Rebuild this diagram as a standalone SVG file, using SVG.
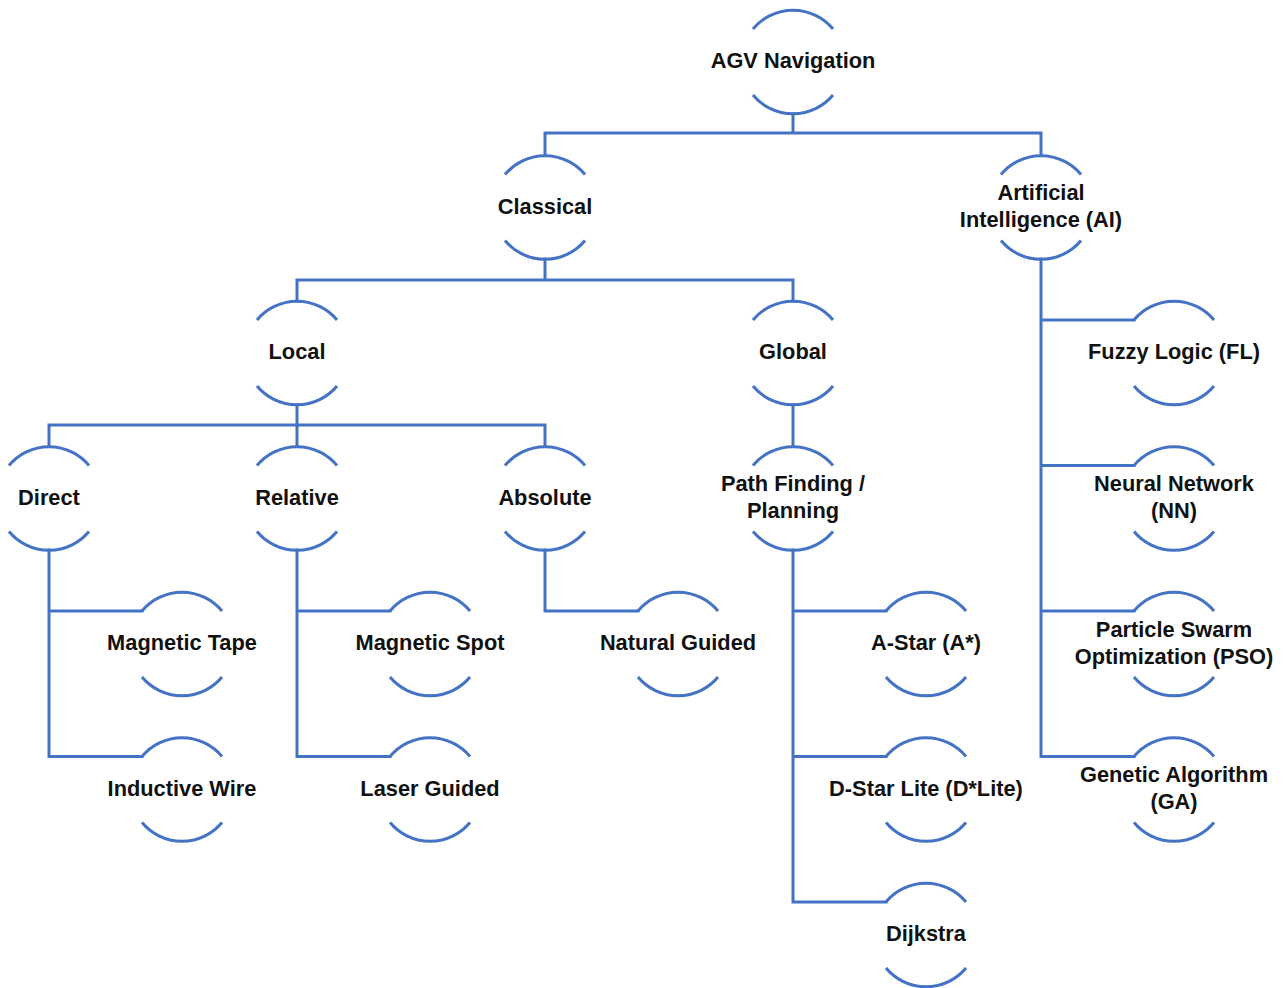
<svg xmlns="http://www.w3.org/2000/svg" xmlns:xlink="http://www.w3.org/1999/xlink" width="1284" height="988" viewBox="0 0 1284 988">
<style>
.arc{fill:none;stroke:#4472C4;stroke-width:3}
.con{fill:none;stroke:#4472C4;stroke-width:3;stroke-linecap:square}
text{font-family:"Liberation Sans",Arial,sans-serif;font-weight:bold;font-size:21.8px;fill:#111;text-anchor:middle;dominant-baseline:central}
</style>
<defs>
<path id="ring" class="arc" d="M-40,-33 A52,52 0 0 1 40,-33 M-40,33 A52,52 0 0 0 40,33"/>
</defs>
<rect width="1284" height="988" fill="#fff"/>
<g id="connectors" class="con">
<path d="M793,114 V133 M545,133 H1041 M545,133 V155 M1041,133 V155"/>
<path d="M545,259 V280 M297,280 H793 M297,280 V301 M793,280 V301"/>
<path d="M297,405 V425 M49,425 H545 M49,425 V446 M297,425 V446 M545,425 V446"/>
<path d="M793,405 V446"/>
<path d="M49,550 V756.5 M49,611 H142 M49,756.5 H142"/>
<path d="M297,550 V756.5 M297,611 H390 M297,756.5 H390"/>
<path d="M545,550 V611 H638"/>
<path d="M793,550 V902 M793,611 H886 M793,756.5 H886 M793,902 H886"/>
<path d="M1041,259 V756.5 M1041,320 H1134 M1041,465.5 H1134 M1041,611 H1134 M1041,756.5 H1134"/>
</g>
<g id="n-agv"><use xlink:href="#ring" href="#ring" x="793" y="62"/><text x="793" y="60.5">AGV Navigation</text></g>
<g id="n-classical"><use xlink:href="#ring" href="#ring" x="545" y="207.5"/><text x="545" y="206">Classical</text></g>
<g id="n-ai"><use xlink:href="#ring" href="#ring" x="1041" y="207.5"/><text x="1041" y="192.5">Artificial</text><text x="1041" y="219.5">Intelligence (AI)</text></g>
<g id="n-local"><use xlink:href="#ring" href="#ring" x="297" y="353"/><text x="297" y="351.5">Local</text></g>
<g id="n-global"><use xlink:href="#ring" href="#ring" x="793" y="353"/><text x="793" y="351.5">Global</text></g>
<g id="n-fl"><use xlink:href="#ring" href="#ring" x="1174" y="353"/><text x="1174" y="351.5">Fuzzy Logic (FL)</text></g>
<g id="n-direct"><use xlink:href="#ring" href="#ring" x="49" y="498.5"/><text x="49" y="497">Direct</text></g>
<g id="n-relative"><use xlink:href="#ring" href="#ring" x="297" y="498.5"/><text x="297" y="497">Relative</text></g>
<g id="n-absolute"><use xlink:href="#ring" href="#ring" x="545" y="498.5"/><text x="545" y="497">Absolute</text></g>
<g id="n-path"><use xlink:href="#ring" href="#ring" x="793" y="498.5"/><text x="793" y="483.5">Path Finding /</text><text x="793" y="510.5">Planning</text></g>
<g id="n-nn"><use xlink:href="#ring" href="#ring" x="1174" y="498.5"/><text x="1174" y="483.5">Neural Network</text><text x="1174" y="510.5">(NN)</text></g>
<g id="n-magtape"><use xlink:href="#ring" href="#ring" x="182" y="644"/><text x="182" y="642.5">Magnetic Tape</text></g>
<g id="n-magspot"><use xlink:href="#ring" href="#ring" x="430" y="644"/><text x="430" y="642.5">Magnetic Spot</text></g>
<g id="n-natural"><use xlink:href="#ring" href="#ring" x="678" y="644"/><text x="678" y="642.5">Natural Guided</text></g>
<g id="n-astar"><use xlink:href="#ring" href="#ring" x="926" y="644"/><text x="926" y="642.5">A-Star (A*)</text></g>
<g id="n-pso"><use xlink:href="#ring" href="#ring" x="1174" y="644"/><text x="1174" y="629">Particle Swarm</text><text x="1174" y="656">Optimization (PSO)</text></g>
<g id="n-inductive"><use xlink:href="#ring" href="#ring" x="182" y="789.5"/><text x="182" y="788">Inductive Wire</text></g>
<g id="n-laser"><use xlink:href="#ring" href="#ring" x="430" y="789.5"/><text x="430" y="788">Laser Guided</text></g>
<g id="n-dstar"><use xlink:href="#ring" href="#ring" x="926" y="789.5"/><text x="926" y="788">D-Star Lite (D*Lite)</text></g>
<g id="n-ga"><use xlink:href="#ring" href="#ring" x="1174" y="789.5"/><text x="1174" y="774.5">Genetic Algorithm</text><text x="1174" y="801.5">(GA)</text></g>
<g id="n-dijkstra"><use xlink:href="#ring" href="#ring" x="926" y="935"/><text x="926" y="933.5">Dijkstra</text></g>
</svg>
